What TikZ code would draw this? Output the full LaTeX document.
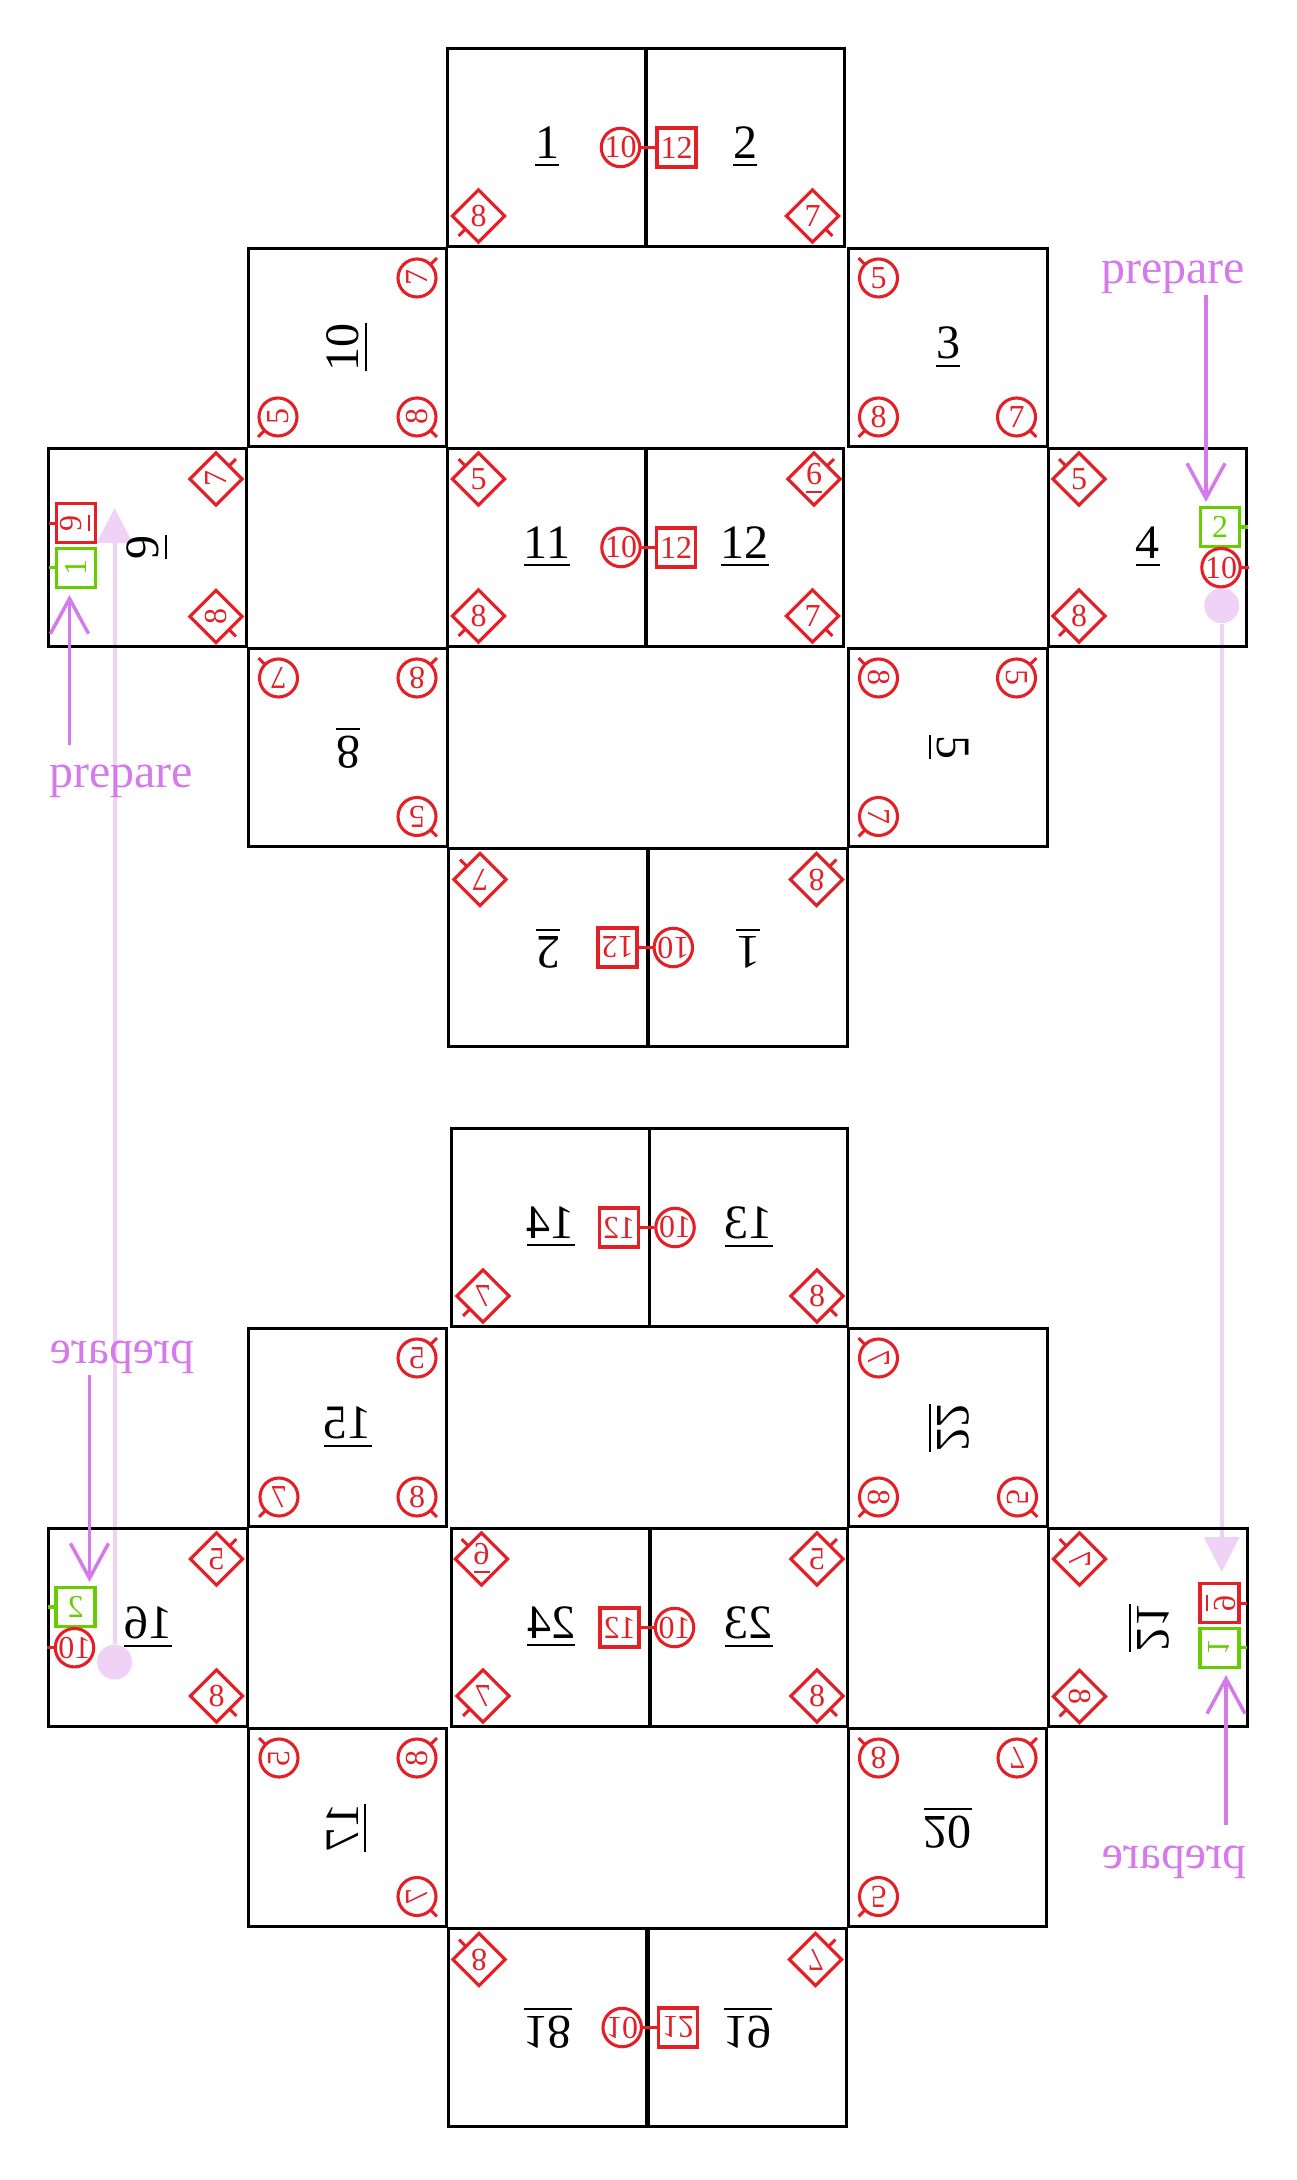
\documentclass[tikz,border=0pt]{standalone}
\usepackage{fontspec}
\setmainfont{Liberation Serif}
\usetikzlibrary{shapes.geometric,arrows.meta}
\definecolor{mred}{RGB}{226,32,38}
\definecolor{mgreen}{RGB}{102,206,0}
\definecolor{violetA}{RGB}{213,122,235}
\definecolor{pinkA}{RGB}{240,210,247}
\newcommand\undl[1]{$\underline{\hbox{#1}}$}
% corner marker: style, name, x, y, dirx, diry, text
\newcommand\cornermk[7]{%
  \node[#1] (#2) at (#3,#4) {#7};
  \draw[mtick] (#2.center) ++(#5*13.4,#6*13.4) -- ++(#5*6.5,#6*6.5);}
% side marker: style, name, x, y, dir, text, colour
\newcommand\sidemk[7]{%
  \node[#1] (#2) at (#3,#4) {#6};
  \draw[mtick,draw=#7] (#2.center) ++(#5*19.5,0) -- ++(#5*8,0);}
\tikzset{
  boxn/.style={draw=black, line width=0.65pt, minimum size=39.7pt, inner sep=0pt, font=\fontsize{9.6}{11}\selectfont},
  mk/.style={draw=mred, line width=0.62pt, text=mred, inner sep=0pt, font=\fontsize{6.4}{7}\selectfont},
  cmk/.style={mk, circle, minimum size=7.6pt},
  dmk/.style={mk, diamond, minimum size=10.7pt},
  smk/.style={mk, rectangle, minimum size=7.8pt},
  gmk/.style={smk, draw=mgreen, text=mgreen},
  mtick/.style={draw=mred, line width=0.62pt},
  prep/.style={text=violetA, font=\fontsize{9.6}{11}\selectfont, inner sep=0pt},
  parrow/.style={draw=violetA, line width=0.7pt, -{Straight Barb[length=7pt,width=7.6pt]}},
  pinkline/.style={draw=pinkA, line width=0.8pt, -{Triangle[length=7pt,width=7pt]}},
  pdot/.style={circle, fill=pinkA, minimum size=7pt, inner sep=0pt}
}
\newcommand\halfnet[1]{%
  % boxes with their labels
  \node[boxn] (#1bA) at (547,147.5) {\undl{\LbA}};
  \node[boxn] (#1bB) at (745,147.5) {\undl{\LbB}};
  \node[boxn,rotate=90] (#1bC) at (347.5,347.5) {\undl{\LbC}};
  \node[boxn] (#1bD) at (948,347.5) {\undl{\LbD}};
  \node[boxn,rotate=90] (#1bE) at (147.5,547.5) {\undl{\LbE}};
  \node[boxn] (#1bF) at (547,547.5) {\undl{\LbF}};
  \node[boxn] (#1bG) at (744.5,547.5) {\undl{\LbG}};
  \node[boxn] (#1bH) at (1147.5,547.5) {\undl{\LbH}};
  \node[boxn,rotate=180] (#1bI) at (348,747.5) {\undl{\LbI}};
  \node[boxn,rotate=-90] (#1bJ) at (948,747.5) {\undl{\LbJ}};
  \node[boxn,rotate=180] (#1bK) at (548,947.5) {\undl{\LbK}};
  \node[boxn,rotate=180] (#1bL) at (748,947.5) {\undl{\LbL}};
  % box A
  \node[cmk] (#1A10) at (620.5,147.5) {10};
  \cornermk{dmk}{#1A8}{478.5}{216}{-1}{1}{8}
  % box B
  \node[smk] (#1B12) at (676.5,147.5) {12};
  \cornermk{dmk}{#1B7}{812.5}{216}{1}{1}{7}
  \draw[mtick] (#1A10) -- (#1B12);
  % box C
  \cornermk{cmk,rotate=90}{#1C7}{417}{278}{1}{-1}{7}
  \cornermk{cmk,rotate=90}{#1C5}{278}{417}{-1}{1}{5}
  \cornermk{cmk,rotate=90}{#1C8}{417}{417}{1}{1}{8}
  % box D
  \cornermk{cmk}{#1D5}{878.5}{278}{-1}{-1}{5}
  \cornermk{cmk}{#1D8}{878.5}{417}{-1}{1}{8}
  \cornermk{cmk}{#1D7}{1016.5}{417}{1}{1}{7}
  % box E
  \cornermk{dmk,rotate=90}{#1E7}{216}{479}{1}{-1}{7}
  \cornermk{dmk,rotate=90}{#1E8}{216}{616.5}{1}{1}{8}
  \sidemk{smk,rotate=90}{#1E9}{76}{523.3}{-1}{\undl{9}}{mred}
  \sidemk{gmk,rotate=90}{#1E1}{76}{567.8}{-1}{1}{mgreen}
  % box F
  \cornermk{dmk}{#1F5}{478.5}{479}{-1}{-1}{5}
  \cornermk{dmk}{#1F8}{478.5}{616}{-1}{1}{8}
  \node[cmk] (#1F10) at (621,547.5) {10};
  % box G
  \cornermk{dmk}{#1G6}{814}{479}{1}{-1}{\undl{6}}
  \cornermk{dmk}{#1G7}{812.5}{616}{1}{1}{7}
  \node[smk] (#1G12) at (676,547.5) {12};
  \draw[mtick] (#1F10) -- (#1G12);
  % box H
  \cornermk{dmk}{#1H5}{1079}{479}{-1}{-1}{5}
  \cornermk{dmk}{#1H8}{1079}{616}{-1}{1}{8}
  \sidemk{gmk}{#1H2}{1220}{527}{1}{2}{mgreen}
  \sidemk{cmk}{#1H10}{1221}{567.7}{1}{10}{mred}
  % box I
  \cornermk{cmk,rotate=180}{#1I7}{278.5}{678}{-1}{-1}{7}
  \cornermk{cmk,rotate=180}{#1I8}{417}{678}{1}{-1}{8}
  \cornermk{cmk,rotate=180}{#1I5}{417}{816.5}{1}{1}{5}
  % box J
  \cornermk{cmk,rotate=-90}{#1J8}{878.5}{678}{-1}{-1}{8}
  \cornermk{cmk,rotate=-90}{#1J5}{1016.5}{678}{1}{-1}{5}
  \cornermk{cmk,rotate=-90}{#1J7}{878.5}{816.5}{-1}{1}{7}
  % box K
  \cornermk{dmk,rotate=180}{#1K7}{480}{879.5}{-1}{-1}{7}
  \node[smk,rotate=180] (#1K12) at (617.5,947.5) {12};
  % box L
  \cornermk{dmk,rotate=180}{#1L8}{816.5}{879.5}{1}{-1}{8}
  \node[cmk,rotate=180] (#1L10) at (673.3,947.5) {10};
  \draw[mtick] (#1L10) -- (#1K12);
  % prepare arrows
  \node[prep,anchor=base] (#1pA) at (1173,283.3) {prepare};
  \coordinate (#1pAe) at (1206,502);
  \draw[parrow] (#1pA.south -| #1pAe) -- (#1pAe);
  \node[prep,anchor=base] (#1pB) at (121,788) {prepare};
  \coordinate (#1pBs) at (69.5,745);
  \coordinate (#1pBe) at (69.5,595);
  \draw[parrow] (#1pBs) -- (#1pBe);
}
\begin{document}
\begin{tikzpicture}[x=0.2pt,y=-0.2pt]
  \useasboundingbox (0,0) rectangle (1296,2180);
  % long light connectors
  \node[pdot] (dotA) at (1221.7,605.7) {};
  \node[pdot] (dotB) at (114.6,1662) {};
  \coordinate (tipA) at (1221.7,1572);
  \coordinate (tipB) at (114.6,508);
  \draw[pinkline] (dotA) -- (tipA);
  \draw[pinkline] (dotB) -- (tipB);
  % upper net
  \def\LbA{1}\def\LbB{2}\def\LbC{10}\def\LbD{3}\def\LbE{9}\def\LbF{11}%
  \def\LbG{12}\def\LbH{4}\def\LbI{8}\def\LbJ{5}\def\LbK{2}\def\LbL{1}%
  \halfnet{t}
  % lower net: mirror image
  \def\LbA{13}\def\LbB{14}\def\LbC{22}\def\LbD{15}\def\LbE{21}\def\LbF{23}%
  \def\LbG{24}\def\LbH{16}\def\LbI{20}\def\LbJ{17}\def\LbK{19}\def\LbL{18}%
  \begin{scope}[shift={(1295.5,1080)},xscale=-1,transform shape]
    \halfnet{b}
  \end{scope}
\end{tikzpicture}
\end{document}
